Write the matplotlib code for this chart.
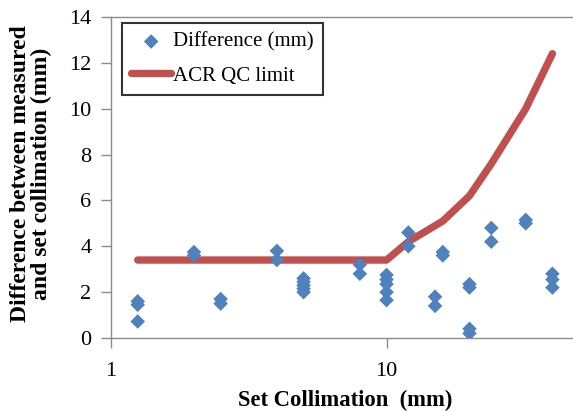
import matplotlib
matplotlib.use("Agg")
import matplotlib.pyplot as plt
from matplotlib.ticker import FixedLocator, NullLocator, FixedFormatter

plt.rcParams['font.family'] = ['Liberation Serif', 'DejaVu Serif']

# Measured differences (mm) at each set collimation (mm)
diff_x = [1.25, 1.25, 1.25,
          2, 2,
          2.5, 2.5,
          4, 4,
          5, 5, 5, 5, 5,
          8, 8,
          10, 10, 10, 10, 10,
          12, 12,
          15, 15,
          16, 16,
          20, 20, 20, 20,
          24, 24,
          32, 32,
          40, 40, 40]
diff_y = [1.6, 1.45, 0.72,
          3.75, 3.6,
          1.7, 1.5,
          3.8, 3.4,
          2.6, 2.45, 2.3, 2.15, 2.0,
          3.2, 2.8,
          2.75, 2.55, 2.35, 2.0, 1.65,
          4.6, 4.0,
          1.8, 1.4,
          3.75, 3.6,
          2.35, 2.2, 0.4, 0.2,
          4.8, 4.2,
          5.15, 5.0,
          2.8, 2.55, 2.2]

# ACR QC limit
limit_x = [1.25, 2, 2.5, 4, 5, 8, 10, 12, 16, 20, 24, 32, 40]
limit_y = [3.4, 3.4, 3.4, 3.4, 3.4, 3.4, 3.4, 4.2, 5.1, 6.2, 7.6, 10.0, 12.4]

fig = plt.figure(figsize=(5.73, 4.12), dpi=100)
ax = fig.add_axes([111/573, 1-338/412, 1-111/573, (338-17)/412])

ax.plot(limit_x, limit_y, color='#C0504D', lw=5.3, solid_capstyle='round',
        solid_joinstyle='round', label='ACR QC limit', zorder=2)
ax.scatter(diff_x, diff_y, marker='D', s=55, color='#4F81BD', edgecolors='none',
           label='Difference (mm)', zorder=3)

ax.set_xscale('log')
ax.set_xlim(1, 47.5)
ax.set_ylim(0, 14)
ax.xaxis.set_major_locator(FixedLocator([1, 10]))
ax.xaxis.set_major_formatter(FixedFormatter(['1', '10']))
ax.xaxis.set_minor_locator(NullLocator())
ax.set_yticks(range(0, 15, 2))

for s in ['left', 'bottom', 'top']:
    ax.spines[s].set_color('#8C8C8C')
    ax.spines[s].set_linewidth(1.0)
ax.spines['right'].set_visible(False)
ax.tick_params(axis='both', direction='out', length=7, color='#8C8C8C',
               labelsize=16, pad=7, width=1.0)
ax.tick_params(axis='x', pad=10)

ax.set_xlabel('Set Collimation  (mm)', fontsize=16.3, fontweight='bold')
ax.xaxis.set_label_coords((345-111)/462, (338-400)/321)
ax.xaxis.label.set_va('center')
ax.set_ylabel('Difference between measured\nand set collimation (mm)', fontsize=17,
              fontweight='bold', linespacing=1.0)
ax.yaxis.set_label_coords((31-111)/462, (338-173.5)/321)
ax.yaxis.label.set_va('center')

handles, labels = ax.get_legend_handles_labels()
leg = ax.legend(handles[::-1], labels[::-1], loc='upper left',
                bbox_to_anchor=(11/462, 1-6/321), borderaxespad=0, fontsize=15,
                frameon=True, fancybox=False, edgecolor='black',
                handlelength=1.9, handletextpad=0.1, borderpad=0.45,
                labelspacing=0.68, scatterpoints=1)
leg.get_frame().set_linewidth(1.5)

fig.savefig('out.png', dpi=100)
